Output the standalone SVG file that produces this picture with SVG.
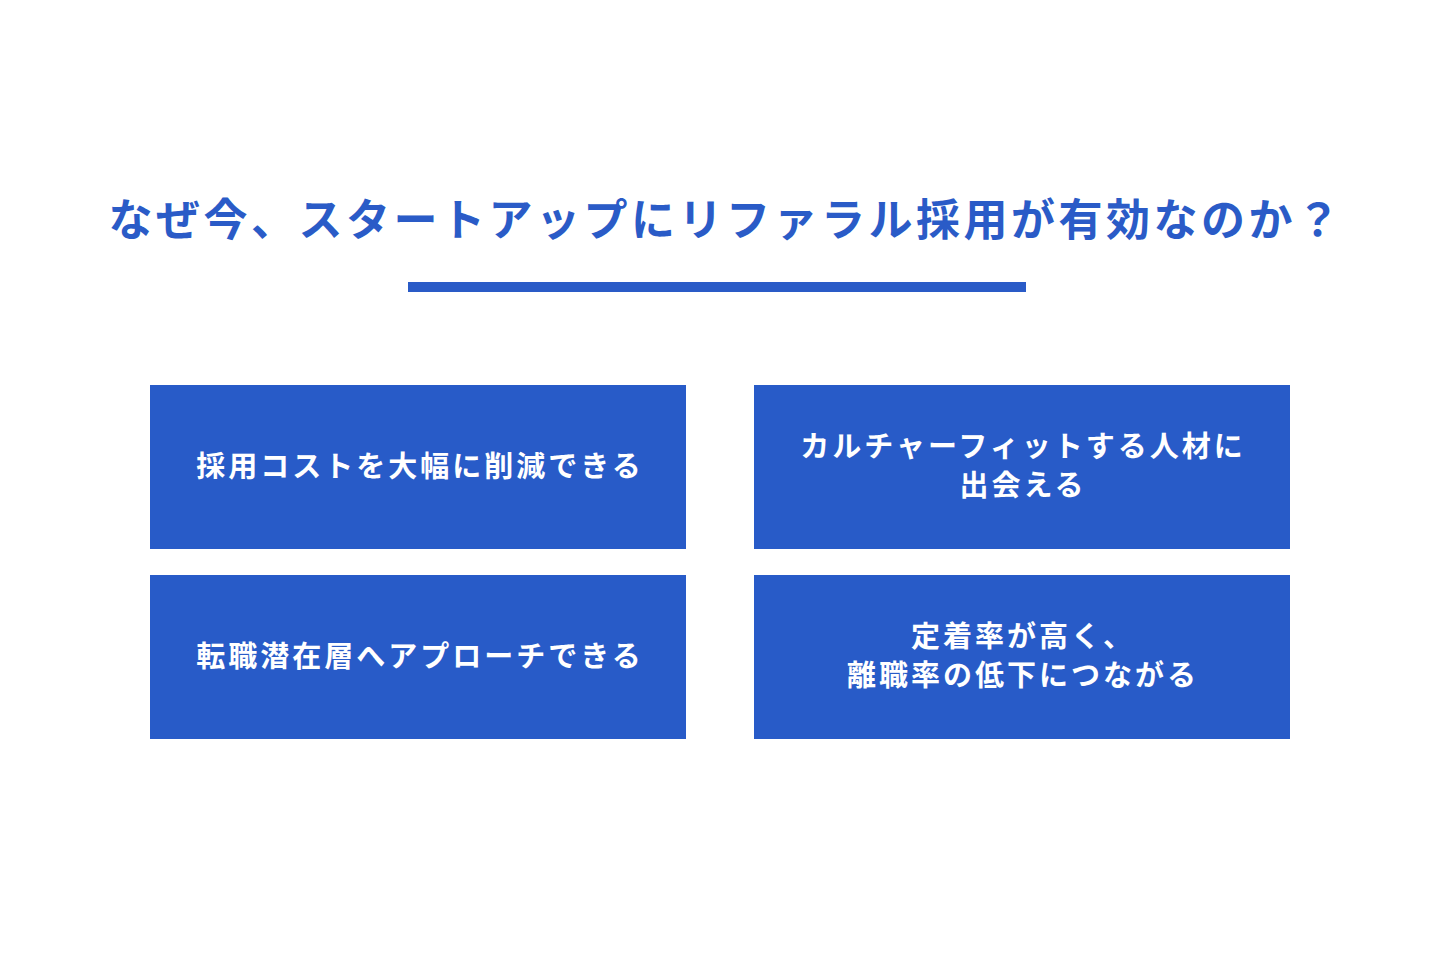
<svg xmlns="http://www.w3.org/2000/svg" width="1440" height="960" viewBox="0 0 1440 960">
<style>
.t{font-family:"Noto Sans CJK JP","Noto Sans",sans-serif;font-weight:bold;text-anchor:middle}
.title{font-size:44px;fill:#2a5bc7;letter-spacing:3.5px}
.box{fill:#285bc8}
.bt{font-size:29px;fill:#ffffff;letter-spacing:3px}
</style>
<rect width="1440" height="960" fill="#ffffff"/>
<g id="title"><text class="t title" x="726" y="236">なぜ今、スタートアップにリファラル採用が有効なのか？</text>
<rect x="408" y="282" width="618" height="10" fill="#2a5bc7"/></g>
<g id="connectors"></g>
<g id="n1"><rect class="box" x="150" y="385" width="536" height="164"/><text class="t bt" x="420" y="477">採用コストを大幅に削減できる</text></g>
<g id="n2"><rect class="box" x="754" y="385" width="536" height="164"/><text class="t bt" x="1023" y="457">カルチャーフィットする人材に</text><text class="t bt" x="1023" y="496">出会える</text></g>
<g id="n3"><rect class="box" x="150" y="575" width="536" height="164"/><text class="t bt" x="420" y="667">転職潜在層へアプローチできる</text></g>
<g id="n4"><rect class="box" x="754" y="575" width="536" height="164"/><text class="t bt" x="1023" y="647">定着率が高く、</text><text class="t bt" x="1023" y="686">離職率の低下につながる</text></g>
</svg>
